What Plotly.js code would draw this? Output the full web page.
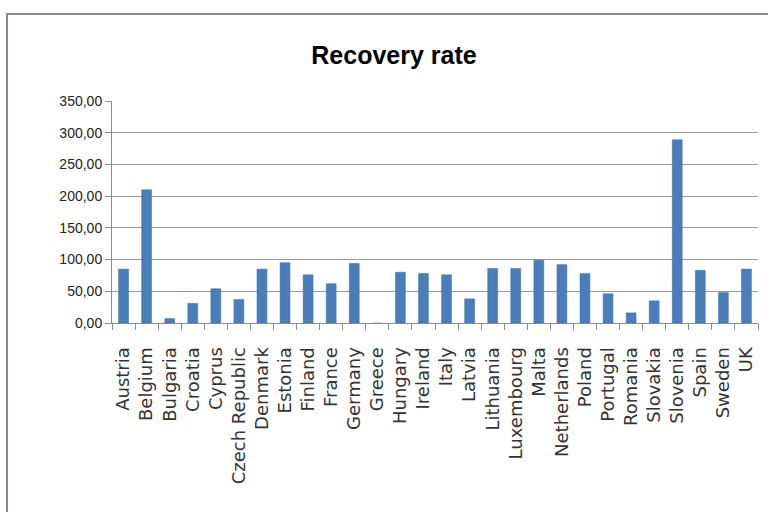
<!DOCTYPE html>
<html>
<head>
<meta charset="utf-8">
<script src="https://cdn.plot.ly/plotly-3.0.1.min.js"></script>
<style>html,body{margin:0;padding:0;background:#fff;}#chart{width:768px;height:512px;}</style>
</head>
<body>
<div id="chart"></div>
<script>
const countries = ["Austria","Belgium","Bulgaria","Croatia","Cyprus","Czech Republic","Denmark","Estonia","Finland","France","Germany","Greece","Hungary","Ireland","Italy","Latvia","Lithuania","Luxembourg","Malta","Netherlands","Poland","Portugal","Romania","Slovakia","Slovenia","Spain","Sweden","UK"];
const recoveryRate = [85, 210, 7, 31, 54, 37, 85, 95, 76, 62, 94, -2, 80, 78, 76, 38, 86, 86, 99, 92, 78, 46, 16, 35, 289, 83, 48, 85];
const yTicks = [0, 50, 100, 150, 200, 250, 300, 350];

const trace = {
  type: "bar",
  x: countries,
  y: recoveryRate,
  marker: {color: "#4a7ebb", line: {color: "#3e6ea8", width: 0.5}},
  hoverinfo: "x+y"
};

const layout = {
  width: 768, height: 512,
  margin: {l: 112, r: 10, t: 101, b: 189, pad: 0},
  paper_bgcolor: "#ffffff", plot_bgcolor: "#ffffff",
  separators: ", ",
  showlegend: false,
  bargap: 0.57,
  title: {
    text: "Recovery rate",
    font: {family: "Liberation Sans, Arial, sans-serif", size: 25, color: "#000000", weight: "bold"},
    xref: "container", yref: "container", x: 0.513, y: 0.893, xanchor: "center", yanchor: "middle"
  },
  xaxis: {
    type: "category",
    tickangle: -90,
    tickfont: {family: "DejaVu Sans, sans-serif", size: 18, color: "#333333"},
    ticklabelstandoff: 16,
    showline: true, linecolor: "#8c8c8c", linewidth: 1,
    ticks: "outside", ticklen: 6, tickcolor: "#8c8c8c", tickson: "boundaries",
    showgrid: false, zeroline: false, fixedrange: true
  },
  yaxis: {
    range: [0, 350],
    tickvals: yTicks,
    tickformat: ".2f",
    tickfont: {family: "Liberation Sans, Arial, sans-serif", size: 14, color: "#222222"},
    showline: true, linecolor: "#8c8c8c", linewidth: 1,
    ticks: "outside", ticklen: 6, tickcolor: "#8c8c8c",
    showgrid: true, gridcolor: "#999999", gridwidth: 1,
    zeroline: false, fixedrange: true
  },
  shapes: [{
    type: "rect", xref: "paper", yref: "paper",
    x0: -0.1625, x1: 1.2, y0: -1.2, y1: 1.392,
    line: {color: "#8a8a8a", width: 2}, fillcolor: "rgba(0,0,0,0)", layer: "below"
  }]
};

Plotly.newPlot("chart", [trace], layout, {displayModeBar: false, staticPlot: true});
</script>
</body>
</html>
